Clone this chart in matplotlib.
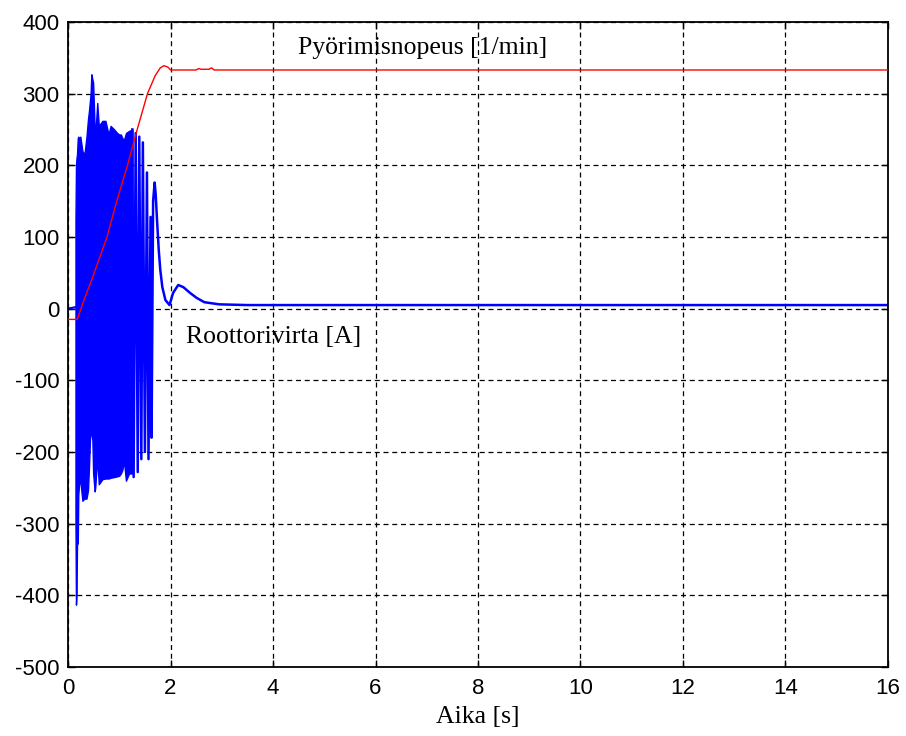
import numpy as np
import matplotlib
matplotlib.use('Agg')
import matplotlib.pyplot as plt

# rotation speed [1/min]
speed_t = [0, 0.18, 0.30, 0.45, 0.60, 0.76, 0.95, 1.16, 1.35, 1.55, 1.70, 1.80, 1.87, 1.95, 2.00, 2.50, 2.55, 2.60, 2.75, 2.80, 2.85, 16]
speed_v = [-15, -15, 10, 38, 68, 100, 150, 200, 250, 300, 325, 336, 339, 337, 333, 333, 335, 334, 334, 336, 333, 333]

# rotor current [A], dense start-up part as envelope
env_t = [0.145, 0.155, 0.165, 0.175, 0.19, 0.20, 0.215, 0.24, 0.28, 0.32, 0.36, 0.39, 0.41, 0.44, 0.455, 0.475,
         0.49, 0.52, 0.53, 0.57, 0.60, 0.67, 0.73, 0.79, 0.83, 0.90, 0.96, 1.00, 1.03, 1.06, 1.09, 1.13, 1.19, 1.255]
env_hi = [124, 200, 210, 215, 238, 240, 235, 240, 220, 215, 240, 265, 277, 300, 327, 320,
          315, 250, 240, 287, 255, 262, 262, 243, 255, 250, 245, 243, 243, 238, 235, 245, 248, 250]
env_lo = [-300, -413, -400, -330, -327, -260, -245, -240, -268, -265, -265, -253, -218, -160, -175, -183,
          -230, -255, -250, -208, -245, -238, -237, -237, -236, -235, -234, -233, -230, -225, -212, -240, -230, -230]

# rotor current, before and after the dense part
pre_t = [0, 0.145]
pre_v = [0, 2]
cur_t = [1.255, 1.28, 1.32, 1.36, 1.39, 1.43, 1.46, 1.50, 1.54, 1.57, 1.61, 1.63, 1.66, 1.69, 1.71, 1.74,
         1.77, 1.80, 1.84, 1.90, 1.98, 2.05, 2.15, 2.25, 2.38, 2.51, 2.66, 2.95, 3.5, 16]
cur_v = [250, -235, 245, -228, 240, -210, 232, -200, 190, -210, 128, -180, 150, 176, 160, 119,
         82, 54, 30, 12, 5, 22, 33, 30, 22, 15, 9, 6, 5, 5]

xticks = np.arange(0, 17, 2)
yticks = np.arange(-500, 401, 100)

fig = plt.figure(figsize=(9.06, 7.36), dpi=100)
ax = fig.add_axes([0.0751, 0.09375, 0.905, 0.8764])

ax.fill_between(env_t, env_lo, env_hi, facecolor='#0000ff', edgecolor='#0000ff', lw=1.0, zorder=2)
ax.plot(pre_t, pre_v, color='#0000ff', lw=1.6, zorder=2)
ax.plot(cur_t, cur_v, color='#0000ff', lw=1.8, zorder=2)
ax.plot(speed_t, speed_v, color='#ff0000', lw=1.0, zorder=3)

ax.text(4.49, 364, 'Pyörimisnopeus [1/min]', family='Liberation Serif', size=18.5, va='center')
ax.text(2.3, -39, 'Roottorivirta [A]', family='Liberation Serif', size=18.5, va='center')

ax.set_xlim(0, 16)
ax.set_ylim(-500, 400)
ax.set_xticks(xticks)
ax.set_yticks(yticks)
ax.set_xticklabels([str(v) for v in xticks], family='Liberation Sans', size=16)
ax.set_yticklabels([str(v) for v in yticks], family='Liberation Sans', size=16)
ax.tick_params(axis='x', direction='in', top=True, length=5, width=1, pad=8)
ax.tick_params(axis='y', direction='in', right=True, length=5, width=1, pad=6)
ax.grid(True, color='black', lw=0.9, linestyle=(0, (4, 3)))
ax.set_axisbelow(True)
for s in ax.spines.values():
    s.set_linewidth(1.3)
ax.set_xlabel('Aika [s]', family='Liberation Serif', size=18.5, labelpad=5)

fig.savefig('out.png', dpi=100, facecolor='white')
